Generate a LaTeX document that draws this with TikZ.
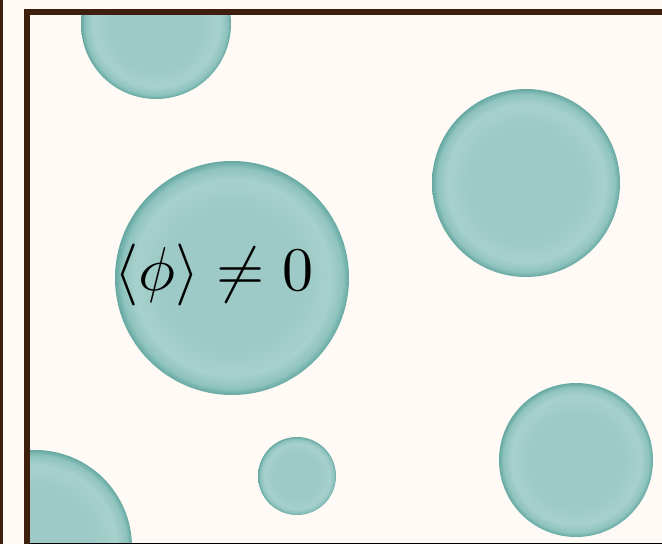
\documentclass[tikz,border=0pt]{standalone}
\usepackage{tikz}

\definecolor{cream}{HTML}{FFFAF5}
\definecolor{framebrown}{HTML}{3E1F0D}
\definecolor{bubin}{HTML}{9DCAC6}
\definecolor{bubmid}{HTML}{A6D0CC}
\definecolor{bubrim}{HTML}{8FC3BE}
\definecolor{bubedge}{HTML}{65A8A1}
\definecolor{baseline}{HTML}{8E8A86}

\pgfdeclareradialshading{bubble}{\pgfpointorigin}{%
  color(0bp)=(bubin); color(15bp)=(bubin); color(21bp)=(bubmid);
  color(23.6bp)=(bubrim); color(25bp)=(bubedge); color(50bp)=(bubedge)}

\begin{document}
\begin{tikzpicture}[
  x=1pt, y=-1pt,
  bubble/.style={shading=bubble},
  wall/.style={draw=framebrown, line width=5.8pt},
  vevlabel/.style={scale=6.2, transform shape, inner sep=0pt},
]
\useasboundingbox (0,0) rectangle (662,544);
\fill[cream] (0,0) rectangle (662,544);
% bubbles of the broken phase
\begin{scope}
  \clip (30,15) rectangle (662,543);
  \shade[bubble] (156,24) circle (75);
  \shade[bubble] (232,278) circle (117);
  \shade[bubble] (526,183) circle (94);
  \shade[bubble] (576,460) circle (77);
  \shade[bubble] (297,476) circle (39);
  \shade[bubble] (35,547) circle (97);
\end{scope}
\node[vevlabel] (vev) at (214,275) {$\langle\phi\rangle \neq 0$};
% box walls
\fill[framebrown] (0,0) rectangle (3,544);
\draw[wall] (27,544) -- (27,12.3) -- (665,12.3);
\fill[baseline] (30,543) rectangle (662,544);
\end{tikzpicture}
\end{document}
